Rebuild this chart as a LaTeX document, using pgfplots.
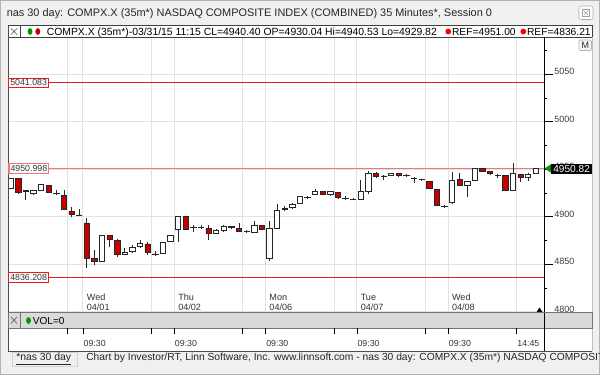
\documentclass[border=0pt]{standalone}
\usepackage{pgfplots}
\pgfplotsset{compat=1.18}
\usepackage{pgfplotstable}
\usepackage{fontspec}
\setmainfont{Liberation Sans}
\definecolor{winbg}{RGB}{240,240,240}
\definecolor{candred}{RGB}{200,0,0}
\definecolor{refred}{RGB}{232,30,30}
\definecolor{refpink}{RGB}{240,120,120}
\definecolor{gridgray}{RGB}{226,226,226}
\definecolor{volgray}{RGB}{218,218,218}
\definecolor{dotgreen}{RGB}{0,150,0}
\newcommand{\fs}[2]{\fontsize{#1}{#2}\selectfont}

\pgfplotstableread{
i o h l c
0 4930.04 4940.53 4929.82 4940.40
1 4940.1 4940.5 4924.3 4926.0
2 4927.0 4928.0 4918.0 4927.5
3 4925.0 4928.0 4922.8 4927.7
4 4928.0 4934.5 4927.5 4934.0
5 4933.0 4933.5 4925.0 4926.0
6 4925.0 4928.0 4922.5 4924.5
7 4922.8 4928.5 4907.0 4907.5
8 4906.0 4910.0 4900.0 4903.0
9 4902.0 4908.4 4901.5 4901.6
10 4893.5 4899.0 4846.0 4856.5
11 4856.0 4865.0 4849.5 4853.0
12 4853.0 4880.5 4852.5 4880.0
13 4880.0 4880.5 4868.0 4876.0
14 4875.0 4877.0 4858.0 4860.0
15 4861.0 4867.5 4860.0 4863.0
16 4864.0 4870.0 4861.5 4868.0
17 4869.0 4876.0 4867.0 4872.0
18 4871.5 4874.0 4860.0 4862.5
19 4861.0 4864.0 4859.0 4860.8
20 4862.0 4874.0 4861.0 4873.0
21 4874.0 4881.0 4873.5 4880.0
22 4887.0 4900.5 4874.0 4900.0
23 4900.0 4900.5 4886.5 4887.0
24 4888.5 4891.0 4884.5 4889.0
25 4889.0 4891.0 4887.0 4889.3
26 4887.5 4891.5 4876.0 4882.5
27 4883.0 4887.0 4882.0 4886.0
28 4885.5 4891.0 4884.0 4890.0
29 4889.5 4890.0 4887.0 4889.2
30 4887.5 4894.0 4883.7 4884.7
31 4884.7 4886.5 4883.0 4885.0
32 4883.7 4896.0 4883.5 4890.7
33 4890.7 4891.0 4886.5 4887.2
34 4856.0 4896.0 4853.8 4888.3
35 4888.3 4913.7 4888.0 4907.0
36 4908.3 4911.0 4906.5 4908.6
37 4909.5 4915.0 4908.4 4913.0
38 4914.0 4922.0 4913.5 4921.7
39 4920.5 4921.7 4918.5 4920.8
40 4923.2 4929.5 4922.5 4927.0
41 4926.7 4927.0 4922.5 4923.2
42 4923.2 4927.0 4922.0 4926.4
43 4925.6 4926.0 4918.5 4921.0
44 4919.3 4921.5 4918.0 4919.0
45 4918.5 4920.0 4918.0 4918.2
46 4918.0 4938.6 4917.5 4926.7
47 4926.4 4948.2 4923.5 4945.4
48 4945.7 4947.0 4941.0 4942.2
49 4943.0 4944.0 4938.3 4942.8
50 4943.6 4946.5 4943.0 4945.4
51 4945.4 4946.0 4941.5 4943.6
52 4944.0 4945.0 4942.0 4943.6
53 4940.5 4942.0 4936.0 4940.2
54 4939.2 4940.0 4938.0 4938.9
55 4937.6 4938.0 4930.0 4930.2
56 4929.1 4929.5 4911.0 4911.9
57 4910.8 4912.0 4909.5 4910.5
58 4914.7 4947.5 4914.0 4938.6
59 4939.0 4945.7 4932.0 4933.0
60 4933.3 4937.5 4921.0 4937.0
61 4938.3 4951.0 4938.0 4950.7
62 4950.7 4951.0 4947.5 4948.1
63 4947.5 4948.5 4944.0 4945.4
64 4944.0 4945.5 4941.0 4943.8
65 4943.9 4944.5 4928.0 4928.1
66 4927.8 4957.0 4927.5 4945.4
67 4944.6 4945.0 4936.5 4941.2
68 4941.2 4946.5 4937.6 4945.0
69 4945.7 4951.0 4945.0 4950.82
}\candles

\pgfplotsset{
  chartgeom/.style={
    at={(6pt,-234.375pt)}, anchor=south west, scale only axis,
    width=402pt, height=205.875pt,
    xmin=-0.35, xmax=70.08, ymin=4799.3, ymax=5088.2,
  }
}

\begin{document}
\begin{tikzpicture}
\useasboundingbox (0pt,0pt) rectangle (450pt,-281.25pt);
\begin{scope}[x=0.75pt,y=-0.75pt]
  \fill[winbg] (0,0) rectangle (600,375);
  \draw[gray!60] (0.5,0.5) rectangle (599.5,374.5);
  \node[anchor=base west, inner sep=0, font=\fs{8.2}{10}, text=black!85] at (6.5,16) {nas 30 day: COMPX.X (35m*) NASDAQ COMPOSITE INDEX (COMBINED) 35 Minutes*, Session 0};
  \draw[gray!65, fill=white, rounded corners=1.5] (579,6) rectangle (593,19.5);
  \draw[gray!75] (582.5,9.3) rectangle (589.5,16.3);
  \draw[gray!75] (583.8,10.6) -- (588.2,15) (583.8,15) -- (588.2,10.6);
  \fill[white] (8,37.3) rectangle (592,351);
  \draw[black!75, fill=white] (8,25.7) rectangle (592,37.3);
  \draw[black!75] (20,25.7) -- (20,37.3);
  \draw[black!70] (10.8,28.3) -- (17.2,34.7) (10.8,34.7) -- (17.2,28.3);
  \fill[dotgreen] (30,31.5) ellipse (2.4 and 3.4);
  \fill[candred] (37.8,31.5) ellipse (2.4 and 3.4);
  \begin{scope}
    \clip (20,25.7) rectangle (591.5,37.3);
    \node[anchor=base west, inner sep=0, font=\fs{7.8}{9}] at (46.5,35) {COMPX.X (35m*)-03/31/15 11:15 CL=4940.40 OP=4930.04 Hi=4940.53 Lo=4929.82};
    \fill[red] (448.3,31.5) circle (2.9);
    \node[anchor=base west, inner sep=0, font=\fs{7.7}{9}] at (451.8,35) {REF=4951.00};
    \fill[red] (523.3,31.5) circle (2.9);
    \node[anchor=base west, inner sep=0, font=\fs{7.7}{9}] at (526.8,35) {REF=4836.21};
  \end{scope}
\end{scope}

% main price axis: grid, wicks, reference lines
\begin{axis}[chartgeom, name=ax,
  axis line style={draw=none},
  xtick={7.5,9.5,18.5,21.5,30.5,33.5,42.5,45.5,54.5,57.5,66.5},
  xticklabels={}, xtick style={draw=none},
  xmajorgrids, ymajorgrids,
  grid style={gridgray, line width=0.8pt},
  ytick={4800,4850,4900,4950,5000,5050},
  minor ytick={4825,4875,4925,4975,5025,5075},
  ytick pos=right, yticklabel pos=right,
  tick align=outside, major tick length=6.75pt, minor tick length=2.4pt,
  ytick style={black, line width=0.5pt},
  minor tick style={black, line width=0.5pt},
  yticklabel style={anchor=south west, inner sep=0pt, xshift=0.8pt, yshift=-0.7pt, font=\fs{6.8}{8}, text=black!75},
  /pgf/number format/set thousands separator={},
  /pgf/number format/assume math mode=true,
]
  \addplot[refred, line width=0.7pt] coordinates {(-0.35,5041.083) (70.08,5041.083)};
  \addplot[refred, line width=0.7pt] coordinates {(-0.35,4836.208) (70.08,4836.208)};
  \addplot[refpink, line width=1.3pt] coordinates {(-0.35,4950.998) (70.08,4950.998)};
  \addplot[draw=none, mark=none, forget plot,
    error bars/.cd, y dir=plus, y explicit, error mark=none,
    error bar style={draw=black!85, line width=0.6pt, solid}]
    table[x=i, y=l, y error expr=\thisrow{h}-\thisrow{l}] {\candles};
\end{axis}

% candle bodies
\begin{axis}[chartgeom, hide axis, ybar stacked, bar width=4pt]
  \addplot[draw=none, fill=none] table[x=i, y expr={min(\thisrow{o},\thisrow{c})}] {\candles};
  \addplot[draw=black!85, line width=0.55pt, fill=candred] table[x=i, y expr={max(\thisrow{o}-\thisrow{c},0)}] {\candles};
  \addplot[draw=black!85, line width=0.55pt, fill=white] table[x=i, y expr={max(\thisrow{c}-\thisrow{o},0)}] {\candles};
\end{axis}

\begin{scope}[x=0.75pt,y=-0.75pt]
  % frame lines
  \draw[black!70, line width=0.6pt] (8,25.7) -- (8,351);
  \draw[black, line width=0.75pt] (544,37.3) -- (544,351);
  \draw[gray!50] (592,37.3) -- (592,351);
  % M button
  \draw[gray!60, fill=gray!8, rounded corners=1] (579,40) rectangle (591.5,50.5);
  \node[font=\fs{7}{8}, text=black!80, inner sep=0] at (585.3,45.4) {M};
  % reference labels
  \node[anchor=west, draw=refred, fill=white, line width=0.6pt, inner sep=1.2pt, minimum height=7.3pt, font=\fs{6.6}{7}, text=black!80] at (8.3,82.8) {5041.083};
  \node[anchor=west, draw=refpink, fill=white, line width=0.9pt, inner sep=1.2pt, minimum height=7.3pt, font=\fs{6.6}{7}, text=black!80] at (8.3,168.4) {4950.998};
  \node[anchor=west, draw=refred, fill=white, line width=0.6pt, inner sep=1.2pt, minimum height=7.3pt, font=\fs{6.6}{7}, text=black!80] at (8.3,277.4) {4836.208};
  % last price marker
  \fill[dotgreen] (544.5,168.5) -- (551.5,164) -- (551.5,173) -- cycle;
  \fill[black] (551,163.5) rectangle (592,174);
  \node[anchor=base west, inner sep=0, font=\fs{7.6}{9}, text=white] at (553,172.2) {4950.82};
  % scroll triangle
  \fill[black] (536.5,312) -- (542.5,312) -- (539.5,307.5) -- cycle;
  % date labels
  \foreach \xx/\dd/\nn in {86.6/Wed/04\slash 01, 178/Thu/04\slash 02, 269.2/Mon/04\slash 06, 360.5/Tue/04\slash 07, 451.8/Wed/04\slash 08}{
    \node[anchor=base west, inner sep=0, font=\fs{6.8}{8}, text=black!80] at (\xx,300) {\dd};
    \node[anchor=base west, inner sep=0, font=\fs{6.8}{8}, text=black!80] at (\xx,310.3) {\nn};
  }
  % volume strip
  \draw[black!55, fill=volgray] (8,312.5) rectangle (592,328.3);
  \draw[black!55] (20,312.5) -- (20,328.3);
  \draw[black!70] (11,317) -- (17,323.5) (11,323.5) -- (17,317);
  \fill[dotgreen] (28.5,320.5) ellipse (2.4 and 3.4);
  \node[anchor=base west, inner sep=0, font=\fs{7.6}{9}] at (32.5,324.2) {VOL=0};
  \draw[black, line width=0.75pt] (544,312.5) -- (544,351);
  % time axis
  \foreach \tx in {67.7,83.0,151.5,174.3,242.8,265.6,334.1,356.9,425.4,448.3,516.7}{
    \draw[black, line width=0.6pt] (\tx,328.3) -- (\tx,333.5);
  }
  \foreach \tx/\tl in {83.4/09:30,174.7/09:30,266/09:30,357.3/09:30,448.7/09:30,517.1/14:45}{
    \node[anchor=base west, inner sep=0, font=\fs{6.6}{8}, text=black!80] at (\tx,346) {\tl};
  }
  \draw[black!70, line width=0.6pt] (8,351) -- (592,351);
  % footer
  \draw[gray!35] (12,352.5) rectangle (77,366);
  \node[anchor=base west, inner sep=0, font=\fs{7.8}{9}, text=black!85] at (16,360.5) {\underline{*nas 30 day}};
  \node[anchor=base west, inner sep=0, font=\fs{7.7}{9}, text=black!85] at (86,360.5) {Chart by Investor/RT, Linn Software, Inc. www.linnsoft.com - nas 30 day: COMPX.X (35m*) NASDAQ COMPOSITE INDEX};
\end{scope}
\end{tikzpicture}
\end{document}
